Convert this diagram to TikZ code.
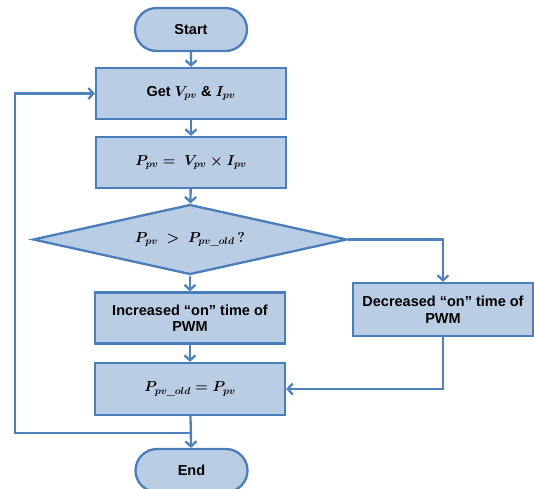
\documentclass[tikz,border=0pt]{standalone}
\usepackage{fontspec}
\setmainfont{Liberation Sans}
\usetikzlibrary{shapes.geometric,shapes.misc,arrows.meta}
\definecolor{boxfill}{HTML}{B9CDE5}
\definecolor{boxdraw}{HTML}{4A7EBB}
\definecolor{linec}{HTML}{4F81BD}
\newcommand{\amp}{\char"26\relax}
\begin{document}
\begin{tikzpicture}[x=1pt,y=-1pt,
  boxbase/.style={fill=boxfill,draw=boxdraw,line width=2.3pt,font=\fontsize{14.5}{16.5}\selectfont\bfseries\boldmath,align=center,inner sep=0pt},
  termbox/.style={boxbase,rounded rectangle,minimum width=112pt,minimum height=43pt},
  procbox/.style={boxbase,rectangle,minimum height=51pt},
  decbox/.style={boxbase,diamond,aspect=4.6,minimum width=314pt,minimum height=70pt},
  connarrow/.style={draw=linec,line width=2.3pt,-{Straight Barb[length=5pt,width=11pt]}}]
\useasboundingbox (0,0) rectangle (534,488);
\node[termbox] (start) at (191,29.5) {Start};
\node[procbox,minimum width=190pt] (get) at (191,93.5) {Get $V_{pv}$ \amp{} $I_{pv}$};
\node[procbox,minimum width=190pt] (calc) at (191,162.5) {$P_{pv} =\ V_{pv}\times I_{pv}$};
\node[decbox] (cmp) at (190,239.5) {$P_{pv}\ >\ P_{pv\_old}\,?$};
\node[procbox,minimum width=190pt,minimum height=51pt] (inc) at (190,318) {Increased “on” time of\\PWM};
\node[procbox,minimum width=180pt,minimum height=53pt] (decr) at (443,309.5) {Decreased “on” time of\\PWM};
\node[procbox,minimum width=190pt,minimum height=52pt] (old) at (190,389) {$P_{pv\_old} = P_{pv}$};
\node[termbox] (end) at (191.5,470.5) {End};
\coordinate (lb) at (190,433);
\coordinate (ll) at (15,433);
\coordinate (lt) at (15,93.5);
\coordinate (rt) at (443,239.5);
\coordinate (rb) at (443,389);
\draw[connarrow] (start) -- (get);
\draw[connarrow] (get) -- (calc);
\draw[connarrow] (calc) -- (cmp);
\draw[connarrow] (cmp) -- (inc);
\draw[connarrow] (inc) -- (old);
\draw[connarrow] (old) -- (end);
\draw[connarrow] (cmp.east) -- (rt) -- (decr.north);
\draw[connarrow] (decr.south) -- (rb) -- (old.east);
\draw[connarrow] (lb) -- (ll) -- (lt) -- (get.west);
\end{tikzpicture}
\end{document}
